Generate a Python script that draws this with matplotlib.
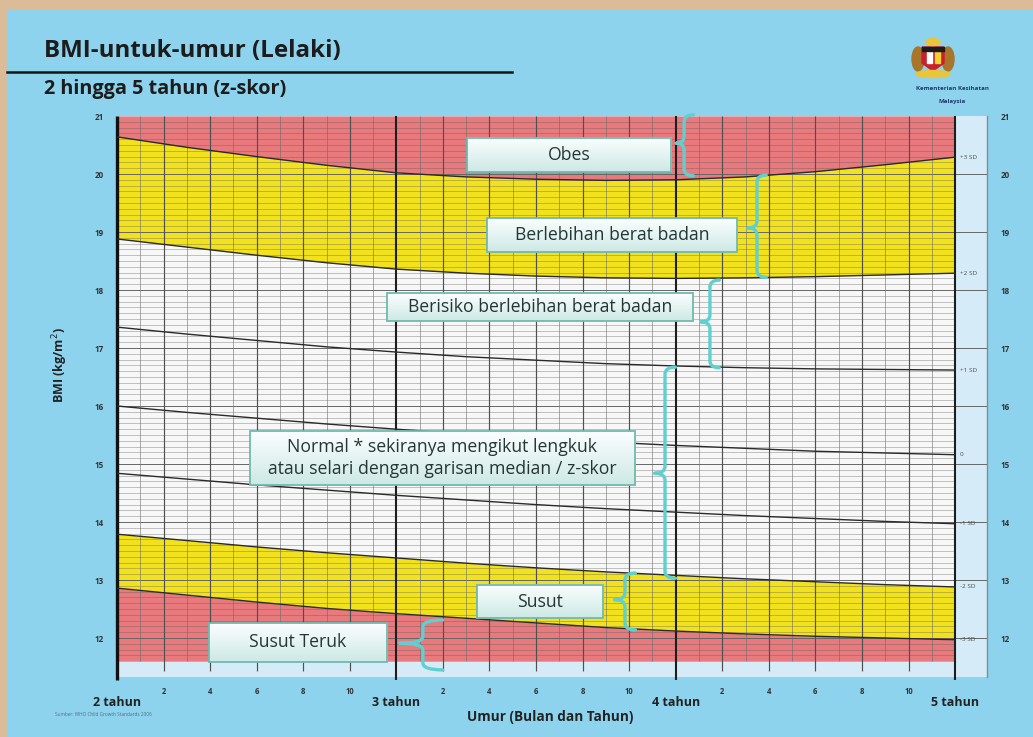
import numpy as np
import matplotlib
matplotlib.use("Agg")
import matplotlib.pyplot as plt
from matplotlib.path import Path
from matplotlib.patches import PathPatch, Rectangle, Polygon, Ellipse
from matplotlib.lines import Line2D
from matplotlib.colors import LinearSegmentedColormap

plt.rcParams["font.family"] = ["Open Sans", "DejaVu Sans"]

# --- data (WHO BMI-for-age, boys, 2-5 years) ---
months = [24, 27, 30, 33, 36, 39, 42, 45, 48, 51, 54, 57, 60]
sd3 = [20.64, 20.46, 20.30, 20.15, 20.02, 19.95, 19.91, 19.89, 19.90, 19.95, 20.04, 20.16, 20.29]
sd2 = [18.88, 18.74, 18.60, 18.47, 18.36, 18.29, 18.24, 18.21, 18.20, 18.21, 18.23, 18.26, 18.29]
sd1 = [17.36, 17.24, 17.13, 17.02, 16.93, 16.85, 16.79, 16.73, 16.69, 16.66, 16.64, 16.63, 16.62]
sd0 = [16.00, 15.89, 15.79, 15.69, 15.60, 15.52, 15.45, 15.38, 15.32, 15.27, 15.22, 15.19, 15.16]
sd1n = [14.84, 14.74, 14.64, 14.55, 14.46, 14.38, 14.30, 14.23, 14.17, 14.11, 14.06, 14.01, 13.97]
sd2n = [13.79, 13.68, 13.57, 13.47, 13.38, 13.29, 13.21, 13.14, 13.08, 13.02, 12.97, 12.92, 12.88]
sd3n = [12.86, 12.74, 12.62, 12.51, 12.42, 12.34, 12.26, 12.18, 12.12, 12.07, 12.03, 12.00, 11.97]
sd_labels = ["+3 SD", "+2 SD", "+1 SD", "0", "-1 SD", "-2 SD", "-3 SD"]

bmi_ticks = list(range(12, 22))
year_ticks = [24, 36, 48, 60]
year_labels = ["2 tahun", "3 tahun", "4 tahun", "5 tahun"]
month_ticks = [m for m in range(26, 60, 2) if m not in year_ticks]
month_labels = [str(m % 12) for m in month_ticks]

box_labels = ["Obes", "Berlebihan berat badan", "Berisiko berlebihan berat badan",
              "Normal * sekiranya mengikut lengkuk\natau selari dengan garisan median / z-skor",
              "Susut", "Susut Teruk"]
box_x0 = [39.03, 39.89, 35.60, 29.71, 39.46, 27.95]
box_x1 = [47.80, 50.63, 48.74, 46.25, 44.88, 35.60]
box_top = [20.62, 19.24, 17.95, 15.57, 12.91, 12.26]
box_bot = [20.03, 18.66, 17.47, 14.64, 12.34, 11.59]

brace_x = [48.36, 51.49, 49.47, 47.54, 45.82, 37.14]
brace_top = [21.02, 19.98, 18.17, 16.67, 13.12, 12.31]
brace_bot = [19.97, 18.22, 16.66, 13.03, 12.14, 11.45]
brace_tip = [20.53, 19.07, 17.45, 14.84, 12.66, 11.91]
brace_tipw = [0.35, 0.4, 0.4, 0.45, 0.45, 1.0]
brace_hookw = [0.4, 0.4, 0.4, 0.45, 0.45, 0.85]

TAN = "#dcbb98"
SKY = "#8ed3ee"
STRIP = "#d5ecf8"
RED = "#e87a7e"
YEL = "#f2e21e"
WHITE = "#f7f7f7"
TEAL = "#5fcfd0"

W, H = 1033, 737
fx = lambda x: x / W
fy = lambda y: 1 - y / H

fig = plt.figure(figsize=(W / 100, H / 100), dpi=100, facecolor=TAN)
fig.patches.append(Rectangle((fx(7), 0), 1 - fx(7), fy(10), transform=fig.transFigure,
                             color=SKY, zorder=-5))

ax = fig.add_axes([fx(117), fy(677), (987 - 117) / W, (677 - 116) / H])
ax.set_facecolor(STRIP)
xmax = 24 + (987 - 117) / 23.28
ymin = 21 - (677 - 116) / 58
base = 11.6

# zones
ax.fill_between(months, sd3, 21, color=RED, lw=0, zorder=1)
ax.fill_between(months, sd2, sd3, color=YEL, lw=0, zorder=1)
ax.fill_between(months, sd2n, sd2, color=WHITE, lw=0, zorder=1)
ax.fill_between(months, sd3n, sd2n, color=YEL, lw=0, zorder=1)
ax.fill_between(months, base, sd3n, color=RED, lw=0, zorder=1)

# graph-paper grid
fine = [v for v in np.arange(11.7, 21.0, 0.1) if abs(v - round(v)) > 0.05]
ax.hlines(fine, 24, 60, color="#5a5a5a", lw=0.5, alpha=0.5, zorder=2)
ax.hlines(bmi_ticks[:-1], 24, xmax, color="#666666", lw=0.7, zorder=2)
odd = list(range(25, 60, 2))
ax.vlines(odd, base, 21, color="#6a6a6a", lw=0.6, alpha=0.65, zorder=2)
ax.vlines(month_ticks, 11.43, 21, color="#505050", lw=0.85, zorder=2)
yl = ax.vlines([36, 48, 60], 11.28, 21, color="#1e1e1e", lw=1.5, zorder=3)
yl.set_clip_on(False)
ax0 = ax.vlines([24], 11.27, 21, color="#111111", lw=2.4, zorder=3)
ax0.set_clip_on(False)

# z-score curves
for s, lab in zip([sd3, sd2, sd1, sd0, sd1n, sd2n, sd3n], sd_labels):
    ax.plot(months, s, color="#2a2a2a", lw=1.0, zorder=4)
    ax.text(60.2, s[-1], lab, fontsize=4.6, ha="left", va="center", color="#4a4a4a", zorder=4)

# label boxes
cm = LinearSegmentedColormap.from_list("box", ["#fbfefe", "#cde9e5"])
grad = np.linspace(0, 1, 64).reshape(-1, 1)
for lab, x0, x1, t, b in zip(box_labels, box_x0, box_x1, box_top, box_bot):
    ax.imshow(grad, extent=(x0, x1, b, t), origin="upper", aspect="auto", cmap=cm,
              zorder=6, clip_on=False)
    ax.add_patch(Rectangle((x0, b), x1 - x0, t - b, fill=False, ec="#70b9ae", lw=1.3,
                           zorder=7, clip_on=False))
    ax.text((x0 + x1) / 2, (t + b) / 2, lab, fontsize=12.7, ha="center", va="center",
            color="#263636", linespacing=1.3, zorder=8)

# curly braces


def brace(x, top, bot, tip, tw, hw, r=0.12):
    verts = [(x + hw, top), (x, top), (x, top - r),
             (x, tip + r), (x, tip), (x - tw, tip),
             (x, tip), (x, tip - r),
             (x, bot + r), (x, bot), (x + hw, bot)]
    codes = [Path.MOVETO, Path.CURVE3, Path.CURVE3, Path.LINETO, Path.CURVE3, Path.CURVE3,
             Path.CURVE3, Path.CURVE3, Path.LINETO, Path.CURVE3, Path.CURVE3]
    return PathPatch(Path(verts, codes), fill=False, ec=TEAL, lw=2.4, zorder=9,
                     clip_on=False, capstyle="round", joinstyle="round")


for x, t, b, m, tw, hw in zip(brace_x, brace_top, brace_bot, brace_tip, brace_tipw, brace_hookw):
    ax.add_patch(brace(x, t, b, m, tw, hw))

ax.set_xlim(24, xmax)
ax.set_ylim(ymin, 21)
for s in ["top", "bottom", "left"]:
    ax.spines[s].set_visible(False)
ax.spines["right"].set_color("#7f8d96")
ax.spines["right"].set_linewidth(1.0)

ax.set_yticks(bmi_ticks)
ax.tick_params(axis="y", left=False, right=False, labelleft=True, labelright=True,
               labelsize=5.8, colors="#333333", pad=6)
for t in ax.get_yticklabels():
    t.set_fontweight("bold")

ax.set_xticks(year_ticks, year_labels)
ax.set_xticks(month_ticks, month_labels, minor=True)
ax.tick_params(axis="x", which="major", length=0, pad=14, labelsize=9, colors="#222222")
ax.tick_params(axis="x", which="minor", length=0, pad=7, labelsize=5.5, colors="#333333")
for t in ax.get_xticklabels() + ax.get_xticklabels(minor=True):
    t.set_fontweight("bold")
ax.set_xlim(24, xmax)
ax.set_ylim(ymin, 21)

# titles and axis names
fig.text(fx(44), fy(51), "BMI-untuk-umur (Lelaki)", fontsize=17.4, fontweight="bold",
         va="center", color="#1c1c1c")
fig.add_artist(Line2D([fx(7), fx(512)], [fy(72), fy(72)], lw=1.8, color="#151515"))
fig.text(fx(44), fy(89), "2 hingga 5 tahun (z-skor)", fontsize=14.3, fontweight="bold",
         va="center", color="#1c1c1c")
fig.text(fx(60), fy(365), "BMI (kg/m$^2$)", rotation=90, fontsize=9, fontweight="bold",
         ha="center", va="center", color="#222222")
fig.text(fx(550), fy(717), "Umur (Bulan dan Tahun)", fontsize=9.8, fontweight="bold",
         ha="center", va="center", color="#222222")
fig.text(fx(55), fy(714), "Sumber: WHO Child Growth Standards 2006", fontsize=3.4,
         ha="left", va="center", color="#4f6f80")

# ministry crest (simplified)
lg = fig.add_axes([fx(908), fy(80), 50 / W, 42 / H])
lg.set_xlim(0, 50)
lg.set_ylim(0, 42)
lg.axis("off")
lg.add_patch(Ellipse((10, 21), 12, 24, color="#a8752a"))
lg.add_patch(Ellipse((40, 21), 12, 24, color="#a8752a"))
lg.add_patch(Polygon([(14, 33), (36, 33), (36, 17), (25, 9), (14, 17)], color="#c8202c"))
lg.add_patch(Rectangle((19, 17), 5, 13, color="#ffffff"))
lg.add_patch(Rectangle((27, 17), 5, 13, color="#f2d22e"))
lg.add_patch(Rectangle((14, 29), 22, 4, color="#1b1b1b"))
lg.add_patch(Ellipse((25, 38), 14, 7, color="#e8c53a"))
lg.add_patch(Ellipse((25, 6), 34, 7, color="#e8c53a"))
fig.text(fx(952), fy(89), "Kementerian Kesihatan", fontsize=4.4, fontweight="bold",
         ha="center", va="center", color="#1d3a6a")
fig.text(fx(952), fy(101), "Malaysia", fontsize=4.4, fontweight="bold", ha="center",
         va="center", color="#1d3a6a")

fig.savefig("out.png", dpi=100, facecolor=TAN)
